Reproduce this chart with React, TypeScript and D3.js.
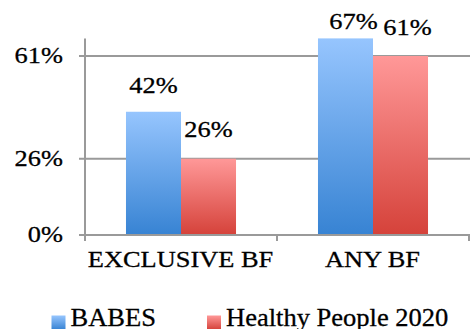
import React from "react";
import * as d3 from "d3";

// Breastfeeding rates: BABES cohort vs Healthy People 2020 targets
const categories = ["EXCLUSIVE BF", "ANY BF"];
const seriesNames = ["BABES", "Healthy People 2020"];
const babesValues = [42, 67];
const hp2020Values = [26, 61];
const yTickValues = [0, 26, 61];

// Small nudges for the value labels (dx, dy from the bar top)
const labelNudges = [
  [[0, -19], [0, -22]],
  [[8, -9], [7, -21]],
];

const W = 470;
const H = 329;
const margin = { left: 85, right: 1, top: 38.4, bottom: 94 };
const serif = "Liberation Serif";
const stretch = 1.1;

const gradients = [
  { id: "gBlue", top: "#96c5fe", bottom: "#3783d3" },
  { id: "gRed", top: "#ff9898", bottom: "#d5423a" },
];

function SText({ x, y, anchor = "middle", size = 24, sx = stretch, children }: any) {
  return (
    <g transform={`translate(${x},${y}) scale(${sx},1)`}>
      <text
        textAnchor={anchor}
        style={{ fontFamily: serif, fontSize: size }}
        fill="#000"
        stroke="#000"
        strokeWidth={0.3}
      >
        {children}
      </text>
    </g>
  );
}

export default function App() {
  const series = [babesValues, hp2020Values];
  const x0 = d3.scaleBand<string>().domain(categories).range([margin.left, W - margin.right]);
  const x1 = d3
    .scaleBand<number>()
    .domain(d3.range(series.length))
    .range([0, x0.bandwidth()])
    .paddingOuter(0.745);
  const yMax = d3.max(series.flat()) as number;
  const y = d3.scaleLinear().domain([0, yMax]).range([H - margin.bottom, margin.top]);
  const baseY = y(0);
  const gridColor = "#9a9a9a";

  return (
    <svg
      width={W}
      height={H}
      style={{ position: "absolute", left: 0, top: 0, background: "#fff" }}
    >
      <defs>
        {gradients.map((g) => (
          <linearGradient key={g.id} id={g.id} x1="0" y1="0" x2="0" y2="1">
            <stop offset="0%" stopColor={g.top} />
            <stop offset="100%" stopColor={g.bottom} />
          </linearGradient>
        ))}
      </defs>

      {/* gridlines at the tick values */}
      {yTickValues
        .filter((v) => v > 0)
        .map((v) => (
          <line
            key={v}
            x1={margin.left - 6}
            x2={W}
            y1={y(v)}
            y2={y(v)}
            stroke={gridColor}
            strokeWidth={2}
          />
        ))}

      {/* bars */}
      {categories.map((c, ci) =>
        series.map((s, si) => (
          <rect
            key={`${c}-${si}`}
            x={(x0(c) as number) + (x1(si) as number)}
            y={y(s[ci])}
            width={x1.bandwidth()}
            height={baseY - y(s[ci])}
            fill={`url(#${gradients[si].id})`}
          />
        ))
      )}

      {/* axes */}
      <line x1={margin.left} x2={margin.left} y1={margin.top} y2={baseY + 6} stroke={gridColor} strokeWidth={2} />
      <line x1={margin.left - 6} x2={W} y1={baseY} y2={baseY} stroke={gridColor} strokeWidth={2} />
      {categories.map((c) => {
        const xr = (x0(c) as number) + x0.bandwidth();
        return (
          <line key={c} x1={xr} x2={xr} y1={baseY} y2={baseY + 6} stroke={gridColor} strokeWidth={2} />
        );
      })}

      {/* y tick labels */}
      {yTickValues.map((v) => (
        <SText key={v} x={63} y={y(v) + 7} anchor="end">
          {`${v}%`}
        </SText>
      ))}

      {/* category labels */}
      {categories.map((c) => (
        <SText key={c} x={(x0(c) as number) + x0.bandwidth() / 2 - 0.5} y={266.5}>
          {c}
        </SText>
      ))}

      {/* value labels */}
      {categories.map((c, ci) =>
        series.map((s, si) => (
          <SText
            key={`lbl-${c}-${si}`}
            x={(x0(c) as number) + (x1(si) as number) + x1.bandwidth() / 2 + labelNudges[ci][si][0]}
            y={y(s[ci]) + labelNudges[ci][si][1]}
          >
            {`${s[ci]}%`}
          </SText>
        ))
      )}

      {/* legend */}
      {seriesNames.map((name, i) => {
        const lx = [51.5, 207][i];
        return (
          <g key={name}>
            <rect x={lx} y={315.5} width={14} height={14} fill={`url(#${gradients[i].id})`} />
            <SText x={lx + 19} y={326} anchor="start" size={26} sx={1.02}>
              {name}
            </SText>
          </g>
        );
      })}
    </svg>
  );
}
